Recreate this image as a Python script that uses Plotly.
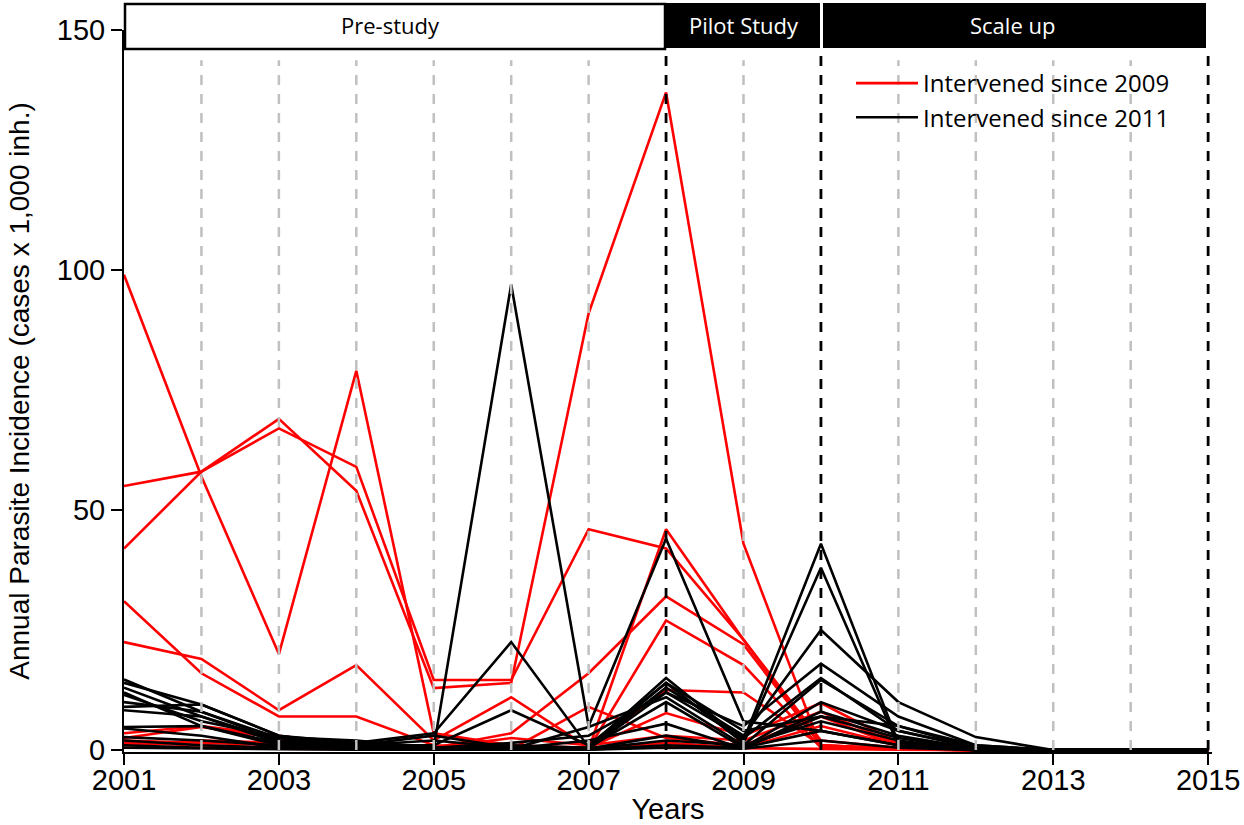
import plotly.graph_objects as go

years = list(range(2001, 2016))

# Intervened since 2009 (red)
red_01 = [99, 57, 20, 79, 3.5, 1.0, 0.5, 0.8, 0.4, 0.2, 0.1, 0, 0, 0, 0]
red_02 = [55, 58, 69, 54, 12.9, 14.0, 91, 137, 43, 0.5, 0.2, 0, 0, 0, 0]
red_03 = [42, 58, 67, 59, 14.6, 14.6, 46, 42, 23, 2.0, 0.5, 0, 0, 0, 0]
red_04 = [31, 16, 7, 7, 1, 0.5, 0.3, 12.5, 12, 1, 0.3, 0, 0, 0, 0]
red_05 = [22.5, 19, 8.3, 17.7, 2, 11, 0.5, 7.7, 3, 9.8, 1.5, 0, 0, 0, 0]
red_06 = [3.5, 5, 3, 1, 0.5, 3.5, 16, 32, 22, 1, 0.3, 0, 0, 0, 0]
red_07 = [2.5, 4.8, 2.5, 1, 0.3, 0.5, 0.3, 27, 17.7, 0.5, 0.2, 0, 0, 0, 0]
red_08 = [1.5, 1, 0.5, 0.3, 0.2, 0.3, 0.2, 46, 23, 1, 0.2, 0, 0, 0, 0]
red_09 = [1, 2, 1.5, 0.5, 0.3, 0.2, 9, 2.5, 1, 7, 0.8, 0, 0, 0, 0]
red_10 = [0.5, 0.5, 0.3, 0.2, 0.1, 0.2, 0.3, 1.5, 0.5, 5, 1, 0, 0, 0, 0]
red_11 = [2, 1.5, 1, 0.5, 0.5, 2.5, 1, 3, 2, 8, 1.2, 0, 0, 0, 0]

# Intervened since 2011 (black)
black_01 = [14.7, 8, 2.5, 1, 0.5, 97, 5, 44, 6, 4, 1, 0, 0, 0, 0]
black_02 = [14, 9.5, 3, 1.5, 3.5, 22.5, 0.6, 15, 2, 43, 1.5, 0, 0, 0, 0]
black_03 = [13, 7, 2, 1, 1, 8.3, 1, 14, 1.5, 38, 1, 0, 0, 0, 0]
black_04 = [11.5, 6, 2.7, 2, 0.5, 0.5, 0.5, 13, 3, 25, 10, 2.7, 0, 0, 0]
black_05 = [9, 9.5, 3, 1, 2, 0.5, 0.3, 12, 5, 18, 7, 1, 0, 0, 0]
black_06 = [8.3, 7, 1.5, 0.5, 0.3, 0.2, 4.8, 11, 1, 14.6, 5, 0.5, 0, 0, 0]
black_07 = [4.8, 5, 1, 0.3, 0.5, 1, 0.5, 10, 0.5, 10, 4, 0.5, 0, 0, 0]
black_08 = [4.5, 3, 0.5, 0.2, 0.3, 0.3, 2, 5.5, 0.3, 8, 3, 0.3, 0, 0, 0]
black_09 = [2.7, 2, 1, 0.5, 0.2, 0.2, 0.3, 3, 0.5, 7, 2.5, 0.2, 0, 0, 0]
black_10 = [2, 1, 0.5, 1.5, 0.1, 0.1, 0.2, 2, 1, 6, 2, 0, 0, 0, 0]
black_11 = [1, 0.5, 0.3, 0.2, 0.1, 0.1, 0.1, 1, 0.5, 4, 1, 0, 0, 0, 0]
black_12 = [0.5, 0.3, 0.2, 0.1, 0.1, 0.1, 0.1, 0.5, 0.3, 2, 0.5, 0, 0, 0, 0]
black_13 = [10, 8, 2, 1, 3, 0.5, 0.5, 14, 4, 7, 5, 1, 0, 0, 0]
black_14 = [12, 5, 1.5, 1, 0.5, 1.5, 3, 12, 2.5, 15, 4, 0.5, 0, 0, 0]

red_series = [red_01, red_02, red_03, red_04, red_05, red_06, red_07, red_08,
              red_09, red_10, red_11]
black_series = [black_01, black_02, black_03, black_04, black_05, black_06, black_07,
                black_08, black_09, black_10, black_11, black_12, black_13, black_14]

grey_years = [2002, 2003, 2004, 2005, 2006, 2007, 2009, 2011, 2012, 2013, 2014]
phase_years = [2008, 2010, 2015]
x_ticks = [2001, 2003, 2005, 2007, 2009, 2011, 2013, 2015]
y_ticks = [0, 50, 100, 150]

fig = go.Figure()
for i, s in enumerate(red_series):
    fig.add_trace(go.Scatter(x=years, y=s, mode="lines",
                             line=dict(color="#ff0000", width=2.6),
                             name="Intervened since 2009", legendgroup="r",
                             showlegend=(i == 0)))
for i, s in enumerate(black_series):
    fig.add_trace(go.Scatter(x=years, y=s, mode="lines",
                             line=dict(color="#000000", width=2.6),
                             name="Intervened since 2011", legendgroup="b",
                             showlegend=(i == 0)))

shapes = []
for yr in grey_years:
    shapes.append(dict(type="line", xref="x", yref="y", x0=yr, x1=yr, y0=0, y1=143.7,
                       line=dict(color="#c0c0c0", width=2.5, dash="10px,9px"), layer="above"))
for yr in phase_years:
    shapes.append(dict(type="line", xref="x", yref="y", x0=yr, x1=yr, y0=0, y1=145.5,
                       line=dict(color="#000000", width=2.8, dash="10px,9px"), layer="above"))

# phase banner (paper coordinates)
PW, PL = 1088.0, 124.0
PH, PB = 722.0, 752.0
def px(v):
    return (v - PL) / PW
def py(v):
    return (PB - v) / PH

shapes.append(dict(type="rect", xref="paper", yref="paper", x0=px(125), x1=px(665),
                   y0=py(49), y1=py(4), fillcolor="white", line=dict(color="black", width=2.5)))
shapes.append(dict(type="rect", xref="paper", yref="paper", x0=px(665), x1=px(820),
                   y0=py(48), y1=py(3), fillcolor="black", line=dict(width=0)))
shapes.append(dict(type="rect", xref="paper", yref="paper", x0=px(823), x1=px(1206),
                   y0=py(48), y1=py(3), fillcolor="black", line=dict(width=0)))

annotations = [
    dict(text="Pre-study", x=px(390), y=py(25), xref="paper", yref="paper", showarrow=False,
         xanchor="center", yanchor="middle",
         font=dict(family="Open Sans", size=22, color="black")),
    dict(text="Pilot Study", x=px(744), y=py(25), xref="paper", yref="paper", showarrow=False,
         xanchor="center", yanchor="middle",
         font=dict(family="Open Sans", size=22, color="white")),
    dict(text="Scale up", x=px(1012), y=py(25), xref="paper", yref="paper", showarrow=False,
         xanchor="center", yanchor="middle",
         font=dict(family="Open Sans", size=22, color="white")),
]

fig.update_layout(
    width=1244, height=825,
    margin=dict(l=124, r=32, t=30, b=73),
    paper_bgcolor="white", plot_bgcolor="white",
    shapes=shapes, annotations=annotations,
    font=dict(family="Liberation Sans", color="black"),
    legend=dict(x=px(851), y=py(61), xanchor="left", yanchor="top",
                bgcolor="rgba(0,0,0,0)", font=dict(family="Open Sans", size=24, color="black"),
                tracegroupgap=0, itemwidth=62),
    xaxis=dict(range=[2001, 2015.05], tickvals=x_ticks, ticks="outside", ticklen=11,
               tickwidth=1.5, tickcolor="black", showline=True, linecolor="black",
               linewidth=1.5, showgrid=False, zeroline=False, automargin=False,
               ticklabelstandoff=-10,
               tickfont=dict(family="Liberation Sans", size=29),
               title=dict(text="Years", font=dict(family="Liberation Sans", size=29), standoff=7)),
    yaxis=dict(range=[-0.4, 150], tickvals=y_ticks, ticks="outside", ticklen=11,
               tickwidth=1.5, tickcolor="black", showline=True, linecolor="black",
               linewidth=2, showgrid=False, zeroline=False, automargin=False,
               tickfont=dict(family="Liberation Sans", size=29),
               title=dict(text="Annual Parasite Incidence (cases x 1,000 inh.)",
                          font=dict(family="Liberation Sans", size=28), standoff=19)),
)

fig.write_html("out.html")
